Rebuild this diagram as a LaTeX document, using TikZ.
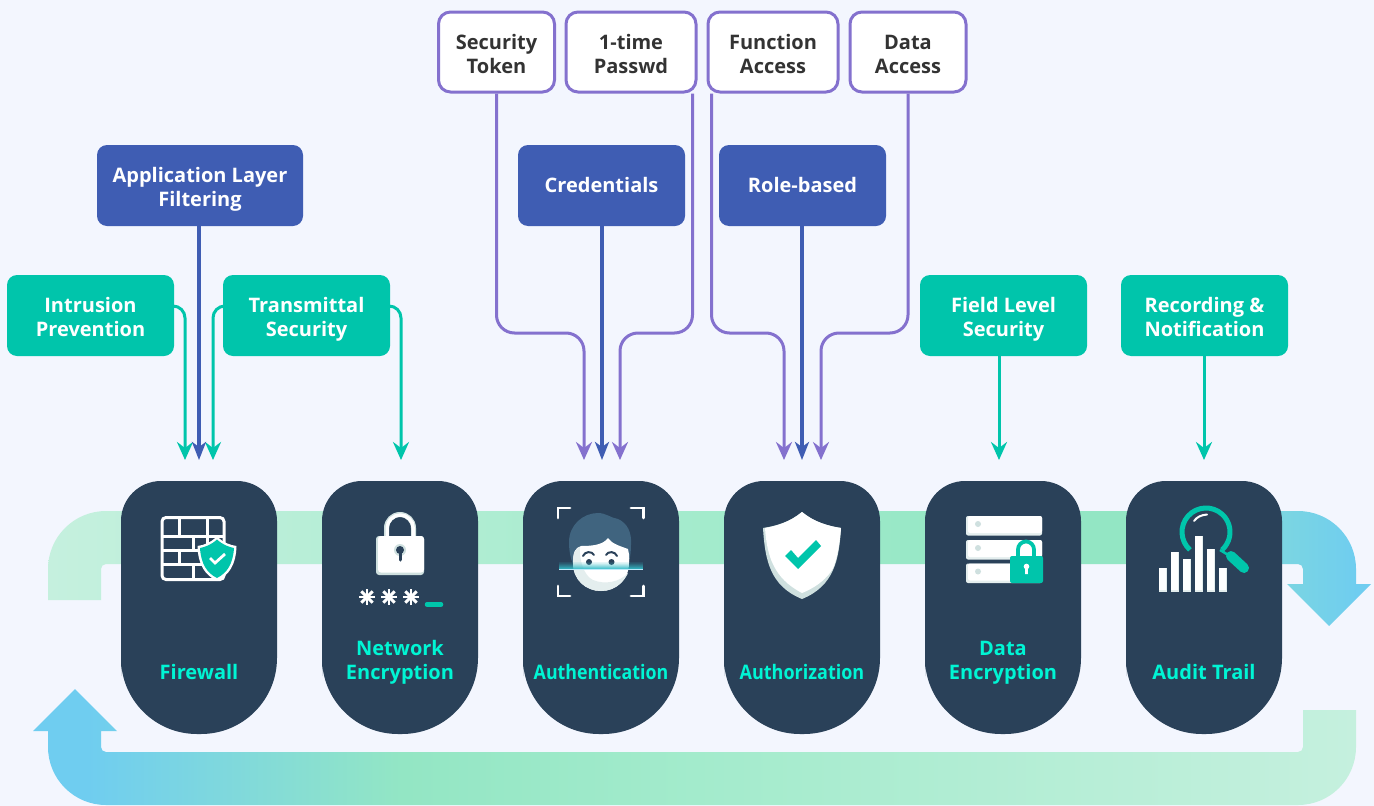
\documentclass[tikz,border=0pt]{standalone}
\usepackage{fontspec}
\setmainfont{Open Sans}
\usetikzlibrary{arrows.meta}
\definecolor{bgc}{HTML}{F3F6FE}
\definecolor{cardc}{HTML}{2A4159}
\definecolor{cyant}{HTML}{00F5D4}
\definecolor{tealc}{HTML}{00C5AB}
\definecolor{bluec}{HTML}{3F5DB3}
\definecolor{purpc}{HTML}{8471CE}
\definecolor{shadec}{HTML}{CFE0DF}
\definecolor{shadeb}{HTML}{E4EEEE}
\definecolor{hairc}{HTML}{40647F}
\definecolor{bandA}{HTML}{C5F0DE}
\definecolor{bandB}{HTML}{93E6C4}
\definecolor{bandC}{HTML}{6FCDF0}
\definecolor{bandD}{HTML}{A3EBCC}
\definecolor{darktext}{HTML}{333333}
\pgfdeclarehorizontalshading{topband}{100bp}{color(0bp)=(bandA); color(25bp)=(bandA); color(50bp)=(bandD); color(61.5bp)=(bandB); color(66bp)=(bandB); color(74.5bp)=(bandC); color(100bp)=(bandC)}
\pgfdeclarehorizontalshading{botband}{100bp}{color(0bp)=(bandC); color(27bp)=(bandC); color(39bp)=(bandB); color(50bp)=(bandD); color(75bp)=(bandA); color(100bp)=(bandA)}
\newcommand{\tla}{\rule{0pt}{24.5pt}}
\newcommand{\tlb}{\rule[-6pt]{0pt}{6pt}}
\newcommand{\onl}{\rule[-6pt]{0pt}{26.5pt}}
\tikzset{
  label/.style={font=\bfseries\fontsize{20}{24}\selectfont,align=center,text=white,inner sep=0pt,rounded corners=10pt,minimum height=81pt},
  bluebox/.style={label,fill=bluec},
  tealbox/.style={label,fill=tealc},
  whitebox/.style={label,fill=white,draw=purpc,line width=3pt,rounded corners=12pt,text=darktext,minimum height=80pt},
  cardtext/.style={font=\bfseries\fontsize{20}{24}\selectfont,align=center,text=cyant,inner sep=0pt},
  tealline/.style={draw=tealc,line width=3pt,-{Stealth[length=18pt,width=16pt,inset=6pt]}},
  blueline/.style={draw=bluec,line width=4.5pt,-{Stealth[length=18pt,width=14pt,inset=5pt]}},
  purpline/.style={draw=purpc,line width=3pt,rounded corners=18pt,-{Stealth[length=18pt,width=16pt,inset=6pt]}},
  card/.style={fill=cardc},
}
\newcommand{\cardat}[1]{%
  \fill[card] (#1-78,600) {[rounded corners=40pt] -- (#1-78,481) -- (#1+78,481) -- (#1+78,600)} {[rounded corners=76pt] -- (#1+78,734) -- (#1-78,734) -- (#1-78,600)} -- cycle;}
\begin{document}
\begin{tikzpicture}[x=1pt,y=-1pt]
\useasboundingbox (0,0) rectangle (1374,806);
\fill[bgc] (0,0) rectangle (1374,806);
% bands
\shade[shading=topband] (48,600) -- (48,569) arc[start angle=180,end angle=270,radius=58] -- (1298,511) arc[start angle=270,end angle=360,radius=58] -- (1356,584) -- (1371,584) -- (1329,626) -- (1287,584) -- (1303,584) -- (1303,569) arc[start angle=0,end angle=-90,radius=5] -- (106,564) arc[start angle=270,end angle=180,radius=5] -- (101,600) -- cycle;
\shade[shading=botband] (75,689) -- (117,731) -- (101,731) -- (101,747) arc[start angle=180,end angle=90,radius=5] -- (1298,752) arc[start angle=90,end angle=0,radius=5] -- (1303,710) -- (1356,710) -- (1356,747) arc[start angle=0,end angle=90,radius=58] -- (106,805) arc[start angle=90,end angle=180,radius=58] -- (48,731) -- (33,731) -- cycle;
% cards
\foreach \cx in {199,400,601,802,1003,1204} {\cardat{\cx}}
\node[cardtext] (lfw) at (199,672) {Firewall};
\node[cardtext] (lne) at (400,658.5) {\tla Network\\\tlb Encryption};
\node[cardtext] (lau) at (601,672) {\scalebox{0.89}[1]{Authentication}};
\node[cardtext] (laz) at (802,672) {\scalebox{0.9}[1]{Authorization}};
\node[cardtext] (lde) at (1003,658.5) {\tla Data\\\tlb Encryption};
\node[cardtext] (lat) at (1204,672) {Audit Trail};
% boxes
\node[bluebox,minimum width=206pt] (appl) at (200,185.5) {\tla Application Layer\\\tlb Filtering};
\node[bluebox,minimum width=167pt] (cred) at (601.5,185.5) {\onl Credentials};
\node[bluebox,minimum width=167pt] (role) at (802.5,185.5) {\onl Role-based};
\node[tealbox,minimum width=167pt] (intr) at (90.5,315.5) {\tla Intrusion\\\tlb Prevention};
\node[tealbox,minimum width=167pt] (trans) at (306.5,315.5) {\tla Transmittal\\\tlb Security};
\node[tealbox,minimum width=167pt] (field) at (1003.5,315.5) {\tla Field Level\\\tlb Security};
\node[tealbox,minimum width=167pt] (rec) at (1204.5,315.5) {\tla Recording \&\\\tlb Notification};
\node[whitebox,minimum width=116pt] (sec) at (496.5,52) {\tla Security\\\tlb Token};
\node[whitebox,minimum width=130pt] (otp) at (631,52) {\tla 1-time\\\tlb Passwd};
\node[whitebox,minimum width=130pt] (func) at (773,52) {\tla Function\\\tlb Access};
\node[whitebox,minimum width=116pt] (data) at (908,52) {\tla Data\\\tlb Access};
% connector ends
\coordinate (lane) at (0,333);
\coordinate (t1) at (185,460); \coordinate (t2) at (199,460); \coordinate (t3) at (213,460);
\coordinate (t4) at (401,460); \coordinate (t5) at (584,460); \coordinate (t6) at (602,460);
\coordinate (t7) at (620,460); \coordinate (t8) at (784,460); \coordinate (t9) at (802,460);
\coordinate (t10) at (821,460); \coordinate (t11) at (999,460); \coordinate (t12) at (1204,460);
% connectors
\draw[tealline,rounded corners=12pt] ([yshift=9.5pt]intr.east) -| (t1);
\draw[tealline,rounded corners=12pt] ([yshift=9.5pt]trans.west) -| (t3);
\draw[tealline,rounded corners=12pt] ([yshift=9.5pt]trans.east) -| (t4);
\draw[blueline] (appl.south -| t2) -- (t2);
\draw[blueline] (cred.south -| t6) -- (t6);
\draw[blueline] (role.south -| t9) -- (t9);
\draw[tealline] (field.south -| t11) -- (t11);
\draw[tealline] (rec.south -| t12) -- (t12);
\draw[purpline] (sec.south) |- (t5 |- lane) -- (t5);
\draw[purpline] ([xshift=-5pt]otp.south east) |- (t7 |- lane) -- (t7);
\draw[purpline] ([xshift=5pt]func.south west) |- (t8 |- lane) -- (t8);
\draw[purpline] (data.south) |- (t10 |- lane) -- (t10);
% --- firewall icon
\begin{scope}[white,line width=3pt]
\draw[rounded corners=4pt] (162,517.5) rectangle (224,579.5);
\draw (162,536) -- (224,536) (162,550) -- (224,550) (162,564.5) -- (224,564.5);
\draw (179,517.5) -- (179,536) (207,517.5) -- (207,536) (193,536) -- (193,550) (179,550) -- (179,564.5) (207,550) -- (207,564.5) (193,564.5) -- (193,579.5) (207,536) -- (207,550);
\end{scope}
\fill[white] (217,536.5) .. controls (210,543) and (204,545) .. (197.5,546) .. controls (198,565) and (205,575) .. (217,581) .. controls (229,575) and (236,565) .. (236.5,546) .. controls (230,545) and (224,543) .. (217,536.5) -- cycle;
\fill[tealc] (217,539.5) .. controls (211,545) and (205,547) .. (200,548) .. controls (201,564) and (207,573) .. (217,578) .. controls (227,573) and (233,564) .. (234,548) .. controls (229,547) and (223,545) .. (217,539.5) -- cycle;
\draw[white,line width=2.8pt] (210,558) -- (215,563) -- (225,554);
% --- lock icon
\draw[shadec,line width=5pt] (386.5,538) -- (386.5,528) arc[start angle=180,end angle=360,radius=13.5] -- (413.5,538);
\draw[white,line width=3.4pt] (387.2,538) -- (387.2,528) arc[start angle=180,end angle=360,radius=13] -- (413.2,538);
\fill[shadec,rounded corners=3pt] (376,536) rectangle (424,575);
\fill[white,rounded corners=3pt] (378,536) rectangle (424,572.5);
\fill[shadec] (400,550) circle (6);
\fill[cardc] (400,550) circle (4);
\draw[cardc,line width=3pt,line cap=round] (400,550) -- (400,560);
\foreach \ax in {367,389,411} {
  \foreach \an in {0,45,90,135} {
    \draw[white,line width=2.9pt] (\ax,597) ++(\an:8) -- ++(\an+180:16);
  }
}
\draw[tealc,line width=4.5pt,line cap=round] (427,604.5) -- (441,604.5);
% --- face icon
\fill[hairc] (569,542) .. controls (569,525) and (583,513) .. (598,513) .. controls (606,513) and (611,518) .. (618,519) .. controls (627,523) and (632,532) .. (631,545) .. controls (631,558) and (628,570) .. (620,575) -- (580,575) .. controls (572,566) and (569,555) .. (569,542) -- cycle;
\fill[white] (573,563) .. controls (573,552) and (575,548) .. (581,546) .. controls (592,546) and (603,545) .. (608,538) .. controls (612,544) and (620,546) .. (628,549) .. controls (630,556) and (629,563) .. (629,563) .. controls (629,580) and (616,591) .. (601,591) .. controls (586,591) and (573,580) .. (573,563) -- cycle;
\fill[shadeb] (573,563) .. controls (573,580) and (586,591) .. (601,591) .. controls (616,591) and (625,580) .. (628,573) .. controls (620,582) and (605,585) .. (593,580) .. controls (584,576) and (579,560) .. (580,547) .. controls (575,549) and (573,553) .. (573,563) -- cycle;
\fill[cardc] (589,562) circle (3) (611.5,562) circle (3);
\draw[cardc,line width=2pt,line cap=round] (583,556) .. controls (585,551) and (592,551) .. (594,555) (606,555) .. controls (608,551) and (615,551) .. (617,556);
\foreach \yy/\op in {562/.12,563/.2,564/.32,565/.45,566/.58,567/.72,568/.85} {
  \fill[cyan!70!green!80!white,opacity=\op] (559,\yy) rectangle (643,\yy+1);
}
\fill[cyan!25!white] (559,569) rectangle (643,570);
\draw[white,line width=2.8pt,line cap=round] (570,508) -- (558,508) -- (558,518) (631,508) -- (643.5,508) -- (643.5,518) (558,586) -- (558,596) -- (570,596) (643.5,586) -- (643.5,596) -- (631,596);
% --- shield icon
\fill[shadec] (802,512) .. controls (790,522) and (776,526) .. (763,528) .. controls (765,560) and (770,586) .. (802,599) .. controls (834,586) and (839,560) .. (841,528) .. controls (828,526) and (814,522) .. (802,512) -- cycle;
\fill[white] (802,512) .. controls (790,522) and (777,526) .. (765,528) .. controls (767,555) and (773,578) .. (802,593) .. controls (822,585) and (832,572) .. (834,566) .. controls (838,555) and (840,540) .. (841,528) .. controls (828,526) and (814,522) .. (802,512) -- cycle;
\fill[tealc] (785,556) -- (791,550) -- (798,558) -- (816,540) -- (821,546) -- (798,569) -- cycle;
% --- data icon
\foreach \yt in {516,540,563.5} {
  \fill[shadeb,rounded corners=2pt] (966,\yt) rectangle (1042,\yt+19.5);
  \fill[white,rounded corners=2pt] (968,\yt) rectangle (1042,\yt+17);
  \fill[shadec] (978,\yt+8) circle (3);
}
\draw[tealc,line width=3.8pt] (1018,558) -- (1018,549.5) arc[start angle=180,end angle=360,radius=8] -- (1034,558);
\fill[tealc,rounded corners=2pt] (1010,556) rectangle (1043,583);
\fill[white] (1026.5,566.5) circle (2.8);
\fill[white] (1025.3,567) -- (1027.7,567) -- (1028,574) -- (1025,574) -- cycle;
% --- audit icon
\draw[tealc,line width=5pt] (1206,532) ++(132:24) arc[start angle=132,end angle=408,radius=24];
\draw[white,line width=2pt,line cap=round] (1194,521) .. controls (1197,517) and (1201,515) .. (1207,514.5);
\foreach \bx/\bt in {1159/568,1171/552,1183/559,1195/536,1207/549,1219/568} {
  \fill[shadeb] (\bx,\bt) rectangle (\bx+8,592);
  \fill[white] (\bx,\bt) rectangle (\bx+6.5,589.5);
}
\draw[tealc,line width=2.5pt] (1220,550) -- (1230,556);
\draw[tealc,line width=10pt,line cap=round] (1231,556) -- (1244,568);
\end{tikzpicture}
\end{document}
